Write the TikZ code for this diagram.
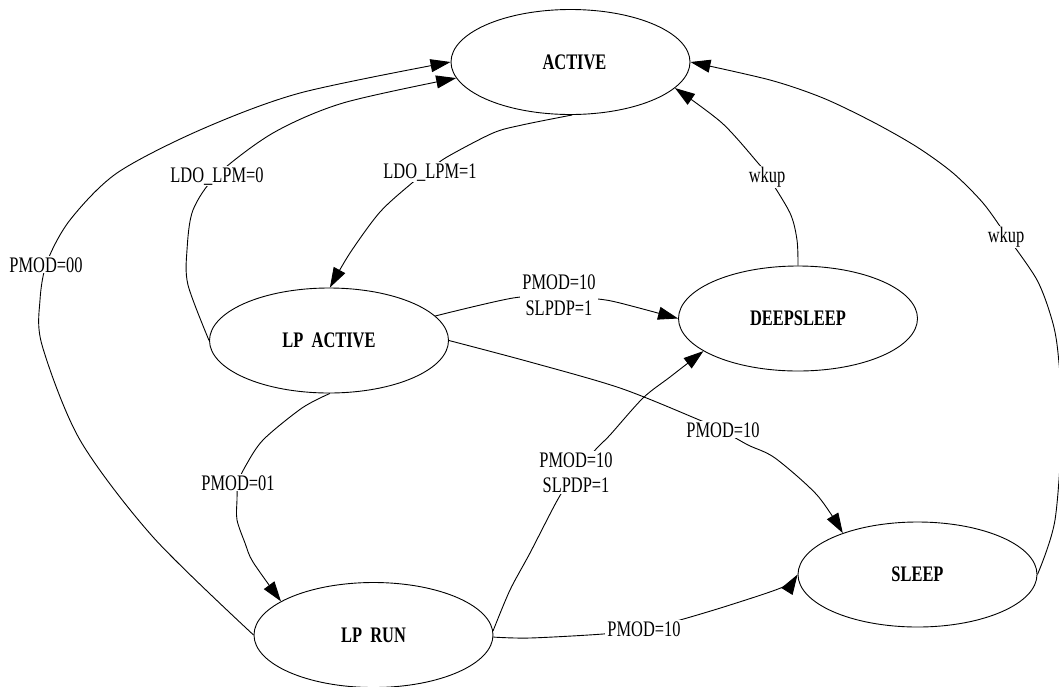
\documentclass[tikz,border=0pt]{standalone}
\usepackage{fontspec}
\setmainfont{Liberation Serif}[FakeStretch=0.74,WordSpace=2]
\usetikzlibrary{shapes.geometric,arrows.meta}
\begin{document}
\begin{tikzpicture}[x=1pt,y=-1pt,
  state/.style={draw, ellipse, minimum width=239pt, minimum height=105pt, inner sep=0pt,
    line width=0.9pt, font=\fontsize{22.2}{25}\selectfont\bfseries},
  lbl/.style={fill=white, inner xsep=2pt, inner ysep=1pt, align=center,
    font=\fontsize{22.2}{25.5}\selectfont},
  edge/.style={line width=0.9pt, -{Triangle[length=20pt,width=13pt]}}]
\useasboundingbox (0,0) rectangle (1059,686);
\clip (0,0) rectangle (1059,686);

\node[state] (active) at (570.5,62) {\hspace*{8pt}ACTIVE};
\node[state] (lpactive) at (329,340.5) {LP ACTIVE};
\node[state] (deepsleep) at (798,318.5) {DEEPSLEEP};
\node[state] (lprun) at (373.5,635) {LP RUN};
\node[state] (sleep) at (917.5,574.5) {SLEEP};

% LP RUN -> ACTIVE (PMOD=00)
\draw[edge] plot[smooth,tension=0.5] coordinates {(lprun.west) (153,537) (80,440) (42,345) (40,300) (47,262) (70,220) (117,173) (200,130) (300,93) (active.west)};
% LP ACTIVE -> ACTIVE (LDO_LPM=0)
\draw[edge] plot[smooth,tension=0.5] coordinates {(lpactive.west) (188,285) (187,250) (193,210) (217,175) (273,133) (343,103) (active.188)};
% ACTIVE -> LP ACTIVE (LDO_LPM=1)
\draw[edge] plot[smooth,tension=0.5] coordinates {(active.-88) (522,125) (493,133) (447,157) (428,171) (412,183) (380,212) (350,253) (lpactive.89)};
% LP ACTIVE -> DEEPSLEEP
\draw[edge] plot[smooth,tension=0.5] coordinates {(lpactive.13) (513,298) (559,296) (598,299) (620,303) (deepsleep.west)};
% LP ACTIVE -> SLEEP
\draw[edge] plot[smooth,tension=0.5] coordinates {(lpactive.east) (530,362) (620,388) (697,419) (723,431) (748,445) (775,458) (817,495) (sleep.151.5)};
% LP RUN -> DEEPSLEEP
\draw[edge] plot[smooth,tension=0.5] coordinates {(lprun.2) (510,590) (530,553) (558,499) (576,472) (597,448) (610,435) (643,398) (670,377) (deepsleep.199)};
% LP RUN -> SLEEP
\draw[edge] plot[smooth,tension=0.5] coordinates {(lprun.-1) (530,638) (603,634) (644,629) (680,620) (730,605) (783,587) (sleep.west)};
% DEEPSLEEP -> ACTIVE
\draw[edge] plot[smooth,tension=0.5] coordinates {(deepsleep.north) (797,240) (790,213) (767,175) (758,163) (722,123) (active.-14.5)};
% SLEEP -> ACTIVE
\draw[edge] plot[smooth,tension=0.5] coordinates {(sleep.east) (1055,520) (1062,420) (1058,353) (1052,320) (1037,280) (1006,235) (983,203) (953,173) (917,147) (873,122) (823,98) (770,80) (active.east)};
% LP ACTIVE -> LP RUN
\draw[edge] plot[smooth,tension=0.5] coordinates {(lpactive.-89) (302,408) (263,440) (245,467) (238,483) (237,500) (237,520) (245,543) (253,562) (lprun.160.7)};

\node[lbl, anchor=base] (l1) at (46,272) {PMOD=00};
\node[lbl, anchor=base] (l2) at (217,182) {LDO\_LPM=0};
\node[lbl, anchor=base] (l3) at (430,178) {LDO\_LPM=1};
\node[lbl] (l4) at (559,295.2) {PMOD=10\\SLPDP=1};
\node[lbl, anchor=base] (l5) at (723,437) {PMOD=10};
\node[lbl] (l6) at (576,472.7) {PMOD=10\\SLPDP=1};
\node[lbl, anchor=base] (l7) at (644,636) {PMOD=10};
\node[lbl, anchor=base] (l8) at (767,182) {wkup};
\node[lbl, anchor=base] (l9) at (1006,242) {wkup};
\node[lbl, anchor=base] (l10) at (238,490) {PMOD=01};
\end{tikzpicture}
\end{document}
